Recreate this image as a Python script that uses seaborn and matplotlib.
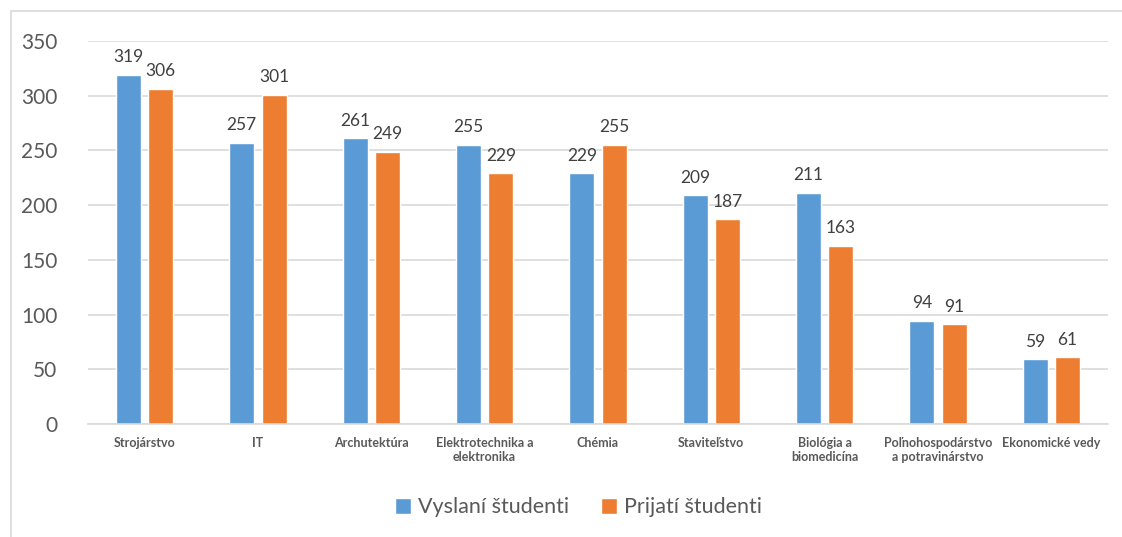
import pandas as pd
import seaborn as sns
import matplotlib
matplotlib.use("Agg")
import matplotlib.pyplot as plt
from matplotlib.patches import Rectangle

categories = ["Strojárstvo", "IT", "Archutektúra", "Elektrotechnika a\nelektronika",
              "Chémia", "Staviteľstvo", "Biológia a\nbiomedicína",
              "Poľnohospodárstvo\na potravinárstvo", "Ekonomické vedy"]
vyslani = [319, 257, 261, 255, 229, 209, 211, 94, 59]
prijati = [306, 301, 249, 229, 255, 187, 163, 91, 61]
series = ["Vyslaní študenti", "Prijatí študenti"]
colors = ["#5B9BD5", "#ED7D31"]
yticks = [0, 50, 100, 150, 200, 250, 300, 350]

df = pd.DataFrame({
    "kategoria": categories * 2,
    "pocet": vyslani + prijati,
    "seria": [series[0]] * len(categories) + [series[1]] * len(categories),
})

sns.set_theme(style="white")
plt.rcParams["font.family"] = ["Lato", "DejaVu Sans"]
text_c = "#595959"

fig = plt.figure(figsize=(11.22, 5.37), dpi=100)
ax = fig.add_axes([0.0784, 0.2104, 0.9091, 0.7132])

sns.barplot(df, x="kategoria", y="pocet", hue="seria", palette=colors,
            width=0.57, gap=0.23, ax=ax, legend=True, saturation=1)

for cont in ax.containers:
    ax.bar_label(cont, padding=7, fontsize=12.5, color="#404040")

ax.set_ylim(0, 350)
ax.set_yticks(yticks)
ax.tick_params(axis="y", labelsize=15, labelcolor=text_c, length=0, pad=22)
ax.tick_params(axis="x", labelsize=9, labelcolor=text_c, length=0, pad=9)
for lbl in ax.get_xticklabels():
    lbl.set_fontweight("bold")
ax.set_xlabel("")
ax.set_ylabel("")
ax.yaxis.grid(True, color="#D9D9D9", linewidth=1.2)
ax.set_axisbelow(True)
for s in ["left", "right", "top"]:
    ax.spines[s].set_visible(False)
ax.spines["bottom"].set_color("#D9D9D9")
ax.spines["bottom"].set_linewidth(1.2)

ax.legend(loc="center", bbox_to_anchor=(0.481, -0.217), ncol=2, frameon=False,
          fontsize=15.5, labelcolor=text_c, handlelength=0.75, handleheight=0.75,
          handletextpad=0.3, columnspacing=1.5)

fig.patches.append(Rectangle((11 / 1122, -0.05), 1.2, 1 - 11 / 537 + 0.05,
                             transform=fig.transFigure, fill=False,
                             edgecolor="#D9D9D9", linewidth=1.2))

plt.savefig("out.png", dpi=100)
